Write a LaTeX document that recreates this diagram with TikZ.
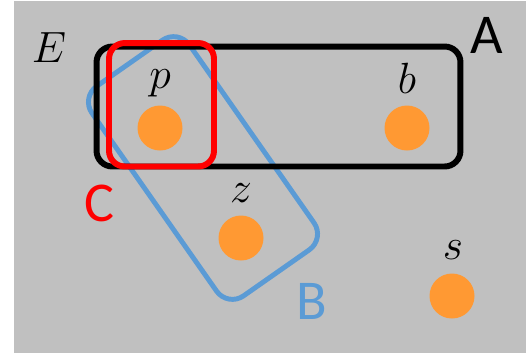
\documentclass[tikz,border=0pt]{standalone}
\usepackage{fontspec}
\newfontfamily\setfont{Carlito}
\usetikzlibrary{positioning}
\definecolor{bggray}{RGB}{192,192,192}
\definecolor{dotorange}{RGB}{255,153,51}
\definecolor{setblue}{RGB}{91,155,213}
\definecolor{setred}{RGB}{255,0,0}
\tikzset{
  elem/.style={circle, fill=dotorange, minimum size=0.9cm, inner sep=0pt},
  elemname/.style={font=\fontsize{33}{33}\selectfont, anchor=base, inner sep=0pt},
  setname/.style={font=\setfont\fontsize{32}{32}\selectfont, anchor=base, inner sep=0pt},
  setbox/.style={rectangle, draw, line width=3.4pt, rounded corners=9pt, inner sep=0pt},
}
\begin{document}
\begin{tikzpicture}[x=0.02cm, y=-0.02cm]
    \useasboundingbox (0,0) rectangle (526,353);
    \fill[bggray] (14,1) rectangle (526,353);

    % Elements
    \node (p) [elem] at (160,128) {};
    \node (b) [elem] at (407,128) {};
    \node (z) [elem] at (241,238) {};
    \node (s) [elem] at (452,296) {};
    \node (namep) [elemname] at (160,88) {$p$};
    \node (nameb) [elemname] at (407,93) {$b$};
    \node (namez) [elemname] at (241,202) {$z$};
    \node (names) [elemname] at (453,259) {$s$};
    \node (nameE) [elemname] at (49,62) {$E$};

    % Sets
    \node (setB) [setbox, draw=setblue, line width=2.8pt, rounded corners=11pt,
        minimum width=5.12cm, minimum height=2.38cm, rotate=-55] at (203,168) {};
    \node (setA) [setbox, minimum width=7.28cm, minimum height=2.4cm] at (278.5,106.5) {};
    \node (setC) [setbox, draw=setred, minimum width=2.1cm, minimum height=2.47cm] at (161.5,104.75) {};
    \node (nameA) [setname] at (487,53) {A};
    \node (nameB) [setname, text=setblue] at (312,319) {B};
    \node (nameC) [setname, text=setred] at (99,221) {C};
\end{tikzpicture}
\end{document}
